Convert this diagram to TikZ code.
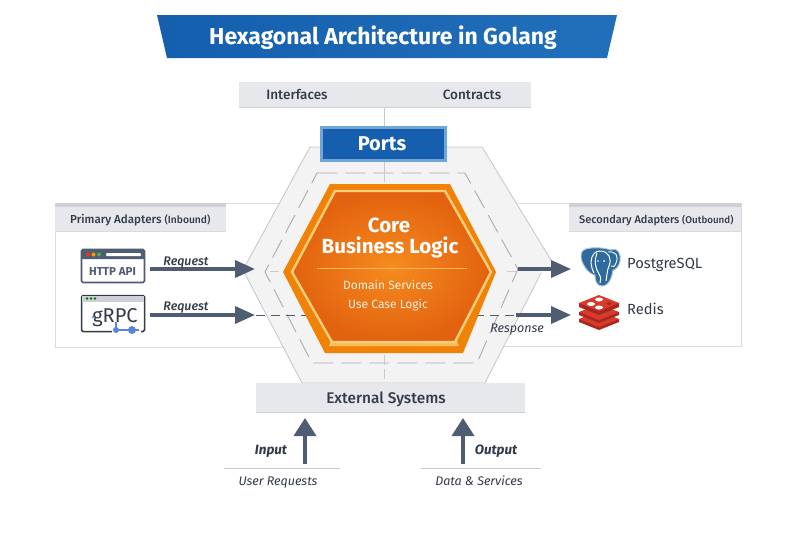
\documentclass[tikz,border=0pt]{standalone}
\usepackage{fontspec}
\setmainfont{Fira Sans}
\newfontfamily\medf[ItalicFont={Fira Sans Medium Italic}]{Fira Sans Medium}
\usetikzlibrary{arrows.meta}
\definecolor{ink}{HTML}{333B4A}
\definecolor{arrowc}{HTML}{4F5D73}
\definecolor{panelb}{HTML}{D9DBDF}
\definecolor{barfill}{HTML}{E6E8EC}
\definecolor{barline}{HTML}{CDD0D6}
\definecolor{hexfill}{HTML}{F3F3F4}
\definecolor{hexline}{HTML}{C8CACD}
\definecolor{dashc}{HTML}{A9ABAF}
\definecolor{blued}{HTML}{155FAE}
\definecolor{bluer}{HTML}{216FBA}
\definecolor{bluel}{HTML}{6FA6DA}
\definecolor{coreo}{HTML}{F08208}
\definecolor{corey}{HTML}{FBCF7A}
\definecolor{corein}{HTML}{F68B1F}
\definecolor{coreout}{HTML}{E2620F}
\definecolor{pgblue}{HTML}{2F6A9E}
\definecolor{redisr}{HTML}{D83A2B}
\definecolor{redisd}{HTML}{A82820}
\tikzset{
 x=1pt,y=-1pt,
 lbl/.style={text=ink,inner sep=0pt,anchor=base},
 itlbl/.style={text=ink,inner sep=0pt,anchor=base,font=\fontsize{12.5}{13}\selectfont\itshape},
 thick arrow/.style={draw=arrowc,line width=3.6pt,-{Triangle[length=20pt,width=17pt,fill=arrowc]}},
 up arrow/.style={draw=arrowc,line width=3.6pt,-{Triangle[length=18pt,width=22pt,fill=arrowc]}},
 dashl/.style={draw=dashc,line width=.9pt,dash pattern=on 20pt off 8pt},
 dashd/.style={draw=arrowc,line width=1pt,dash pattern=on 9pt off 6pt},
 panel/.style={draw=panelb,line width=1pt,fill=white},
 thinrule/.style={draw=hexline,line width=.8pt},
}
\begin{document}
\begin{tikzpicture}
\useasboundingbox (0,0) rectangle (800,533);
\fill[white] (0,0) rectangle (800,533);
% title
\shade[left color=blued,right color=bluer,draw=none] (157,15) -- (617,15) -- (607,58) -- (167,58) -- cycle;
\node[text=white,inner sep=0,anchor=base,font=\fontsize{23}{23}\selectfont\bfseries] (title) at (383,44) {Hexagonal Architecture in Golang};
% panels
\draw[panel] (55,203) rectangle (400,347);
\draw[panel] (400,203) rectangle (741,346);
\fill[barfill] (55,203) rectangle (226,231);
\fill[barline] (55,203) rectangle (226,207);
\draw[panelb,line width=.8pt] (55,231) -- (226,231);
\fill[barfill] (569,203) rectangle (741,231);
\fill[barline] (569,203) rectangle (741,207);
\draw[panelb,line width=.8pt] (569,231) -- (741,231);
\node[lbl,anchor=base west,font=\fontsize{11.6}{12}\selectfont\medf] (ph) at (70,223) {Primary Adapters \fontsize{10.3}{12}\selectfont(Inbound)};
\node[lbl,anchor=base west,font=\fontsize{11}{12}\selectfont\medf] (sh) at (579,223) {Secondary Adapters \fontsize{9.8}{12}\selectfont(Outbound)};
% top bar
\fill[barfill] (239,82) rectangle (531,107);
\draw[barline,line width=.6pt] (239,107) -- (531,107);
\node[lbl,font=\fontsize{13.5}{13}\selectfont\medf] (ifc) at (297,99) {Interfaces};
\node[lbl,font=\fontsize{13.5}{13}\selectfont\medf] (ctr) at (472,99) {Contracts};
% outer hexagon
\path[fill=hexfill,draw=none] (310,147) -- (482,147) -- (554,265) -- (541,272) -- (485,383) -- (302,383) -- (243,270) -- cycle;
\draw[hexline,line width=.9pt] (541,273) -- (485,383) -- (302,383) -- (243,270) -- (310,147) -- (482,147) -- (554,265);
% inner dashed hexagon
\draw[dashl] (317,173) -- (465,173) -- (518,269) -- (477,363) -- (312,363) -- (265,272) -- cycle;
% port centre line
\draw[hexline,line width=1pt] (384,107) -- (384,182);
\draw[hexline,line width=1pt,dash pattern=on 10pt off 4pt] (384,355) -- (384,383);
\draw[hexline,line width=1pt] (270,271) -- (279,271);
\draw[hexline,line width=1pt] (507,271) -- (516,271);
% ports
\node[draw=bluel,line width=3pt,fill=blued,text=white,minimum width=124pt,minimum height=33pt,inner sep=0,font=\fontsize{20}{20}\selectfont\bfseries] (ports) at (383.5,144) {};
\node[text=white,inner sep=0,anchor=base,font=\fontsize{20}{20}\selectfont\bfseries] (portst) at (382,150) {Ports};
% dashed through-line
\draw[dashd] (256,315) -- (330,315);
\draw[dashd] (460,315) -- (516,315);
% core hexagon
\fill[coreo] (330,184) -- (450,184) -- (496,272) -- (463,353) -- (325,353) -- (283,272) -- cycle;
\fill[corey!75!coreo] (332,336) -- (455,336) -- (459,346) -- (329,346) -- cycle;
\shade[inner color=corein,outer color=coreout,draw=corey,line width=2.4pt] (335,191) -- (445,191) -- (491,272) -- (455,342) -- (332,342) -- (292,272) -- cycle;
\draw[corey!70!coreo,line width=.9pt] (317,268) -- (467,268);
\node[text=white,inner sep=0,anchor=base,font=\fontsize{20.5}{21}\selectfont\bfseries] (core) at (389,232) {Core};
\node[text=white,inner sep=0,anchor=base,font=\fontsize{20.5}{21}\selectfont\bfseries] (bl) at (390,253) {Business Logic};
\node[text=white!88!orange,inner sep=0,anchor=base,font=\fontsize{12}{13}\selectfont] (ds) at (388,289) {Domain Services};
\node[text=white!88!orange,inner sep=0,anchor=base,font=\fontsize{12}{13}\selectfont] (uc) at (388,308) {Use Case Logic};
% external bar
\fill[barfill] (256,383) rectangle (525,413);
\fill[barline] (256,411.5) rectangle (525,413);
\node[lbl,font=\fontsize{15.4}{15}\selectfont\medf] (ext) at (386,403) {External Systems};
% HTTP icon
\draw[arrowc,line width=1.6pt,fill=white,rounded corners=1.5pt] (81.5,249.5) rectangle (144.5,282.5);
\fill[arrowc,rounded corners=1pt] (81.5,249.5) rectangle (144.5,259);
\fill[red!60!orange] (88,254.5) circle (2);
\fill[orange!80!yellow] (93.5,254.5) circle (2);
\fill[green!55!black!70!white] (99,254.5) circle (2);
\fill[white,rounded corners=1pt] (106,253) rectangle (141,256);
\node[lbl,text=arrowc,font=\fontsize{11.5}{13}\selectfont\bfseries] (http) at (112.5,275) {HTTP API};
% gRPC icon
\draw[ink,line width=1.5pt,fill=white,rounded corners=1.5pt] (81.5,295.5) rectangle (144.5,331.5);
\fill[barline] (82.3,296.3) rectangle (143.7,302);
\foreach \dx in {87,91,95}{\fill[green!45!black] (\dx,298.5) circle (1.3);}
\fill[bluel] (93,317) circle (1.5);
\node[lbl,font=\fontsize{20}{20}\selectfont] (grpc) at (115,322) {gRPC};
\draw[white,line width=2pt] (112,331.5) -- (141,331.5);
\draw[bluel!80!blue,line width=1.3pt] (116,322) -- (116,330) -- (139,330);
\fill[bluel!80!blue] (116,330) circle (3);
\fill[bluel!80!blue] (132,330) circle (4);
% arrows
\coordinate (l1s) at (150,269); \coordinate (l1e) at (255,269);
\coordinate (l2s) at (150,315); \coordinate (l2e) at (255,315);
\coordinate (r1s) at (518,269); \coordinate (r1e) at (571,269);
\coordinate (r2s) at (516,315); \coordinate (r2e) at (571,315);
\draw[thick arrow] (l1s) -- (l1e);
\draw[thick arrow] (l2s) -- (l2e);
\draw[thick arrow] (r1s) -- (r1e);
\draw[thick arrow] (r2s) -- (r2e);
\node[itlbl,font=\fontsize{12.5}{13}\selectfont\medf\itshape] (rq1) at (186,265) {Request};
\node[itlbl,font=\fontsize{12.5}{13}\selectfont\medf\itshape] (rq2) at (186,310) {Request};
\node[itlbl] (resp) at (517,332) {Response};
% PostgreSQL
\begin{scope}[shift={(581,248)}]
 \draw[white!60!pgblue,line width=1pt,fill=pgblue] (7,0.5) .. controls (14,-1) and (24,0) .. (30,2) .. controls (37,-1) and (40,6) .. (39,13) .. controls (38,19) and (34,22) .. (32,22) .. controls (31,29) and (28,38) .. (21,38) .. controls (15,38) and (14,31) .. (14,27) .. controls (7,26) and (0,15) .. (0,8) .. controls (0,3) and (3,1) .. (7,0.5) -- cycle;
 \draw[white,line width=1pt] (13,25) .. controls (7,14) and (11,3) .. (19,3) .. controls (28,3) and (31,11) .. (28,18) .. controls (26,22) and (26,28) .. (25,33);
 \draw[white,line width=1pt] (16,5) .. controls (13,12) and (14,20) .. (18,26) .. controls (20,29) and (20,32) .. (19,35);
 \draw[white,line width=.9pt] (27,4) .. controls (35,3) and (38,8) .. (35,15) .. controls (34,18) and (32,20) .. (30,18);
 \fill[white] (23,13) circle (1);
 \fill[white] (17,13) circle (.8);
\end{scope}
\node[lbl,anchor=base west,font=\fontsize{14.7}{15}\selectfont] (pg) at (627,268) {PostgreSQL};
% Redis
\begin{scope}[shift={(579,295)}]
 \foreach \dy in {16,9}{
  \fill[redisd] (0,8+\dy) -- (0,11+\dy) -- (20,19+\dy) -- (40,11+\dy) -- (40,8+\dy) -- cycle;
  \fill[redisr] (0,8+\dy) -- (20,0+\dy) -- (40,8+\dy) -- (20,16+\dy) -- cycle;}
 \fill[redisd] (0,8) -- (0,12) -- (20,20) -- (40,12) -- (40,8) -- cycle;
 \fill[redisr] (0,8) -- (20,0) -- (40,8) -- (20,16) -- cycle;
 \fill[white] (20,4.5) ellipse (4 and 2);
 \fill[white] (12,9) ellipse (4 and 2);
 \fill[white] (20,12.5) ellipse (4 and 2);
 \fill[redisd] (27,8.5) -- (30,7) -- (33,8.5) -- (30,10) -- cycle;
\end{scope}
\node[lbl,anchor=base west,font=\fontsize{14.7}{15}\selectfont] (rd) at (627,314) {Redis};
% bottom
\coordinate (in1) at (305,464); \coordinate (in2) at (305,418);
\coordinate (ou1) at (463,464); \coordinate (ou2) at (463,418);
\draw[up arrow] (in1) -- (in2);
\draw[up arrow] (ou1) -- (ou2);
\node[itlbl,font=\fontsize{13.5}{14}\selectfont\itshape\bfseries] (inp) at (271,454) {Input};
\node[itlbl,font=\fontsize{13.5}{14}\selectfont\itshape\bfseries] (out) at (496,454) {Output};
\coordinate (a1) at (224,468); \coordinate (a2) at (340,468);
\coordinate (b1) at (421,468); \coordinate (b2) at (541,468);
\draw[thinrule] (a1) -- (a2);
\draw[thinrule] (b1) -- (b2);
\node[itlbl] (ur) at (278,485) {User Requests};
\node[itlbl] (dsv) at (479,485) {Data \& Services};
\end{tikzpicture}
\end{document}
